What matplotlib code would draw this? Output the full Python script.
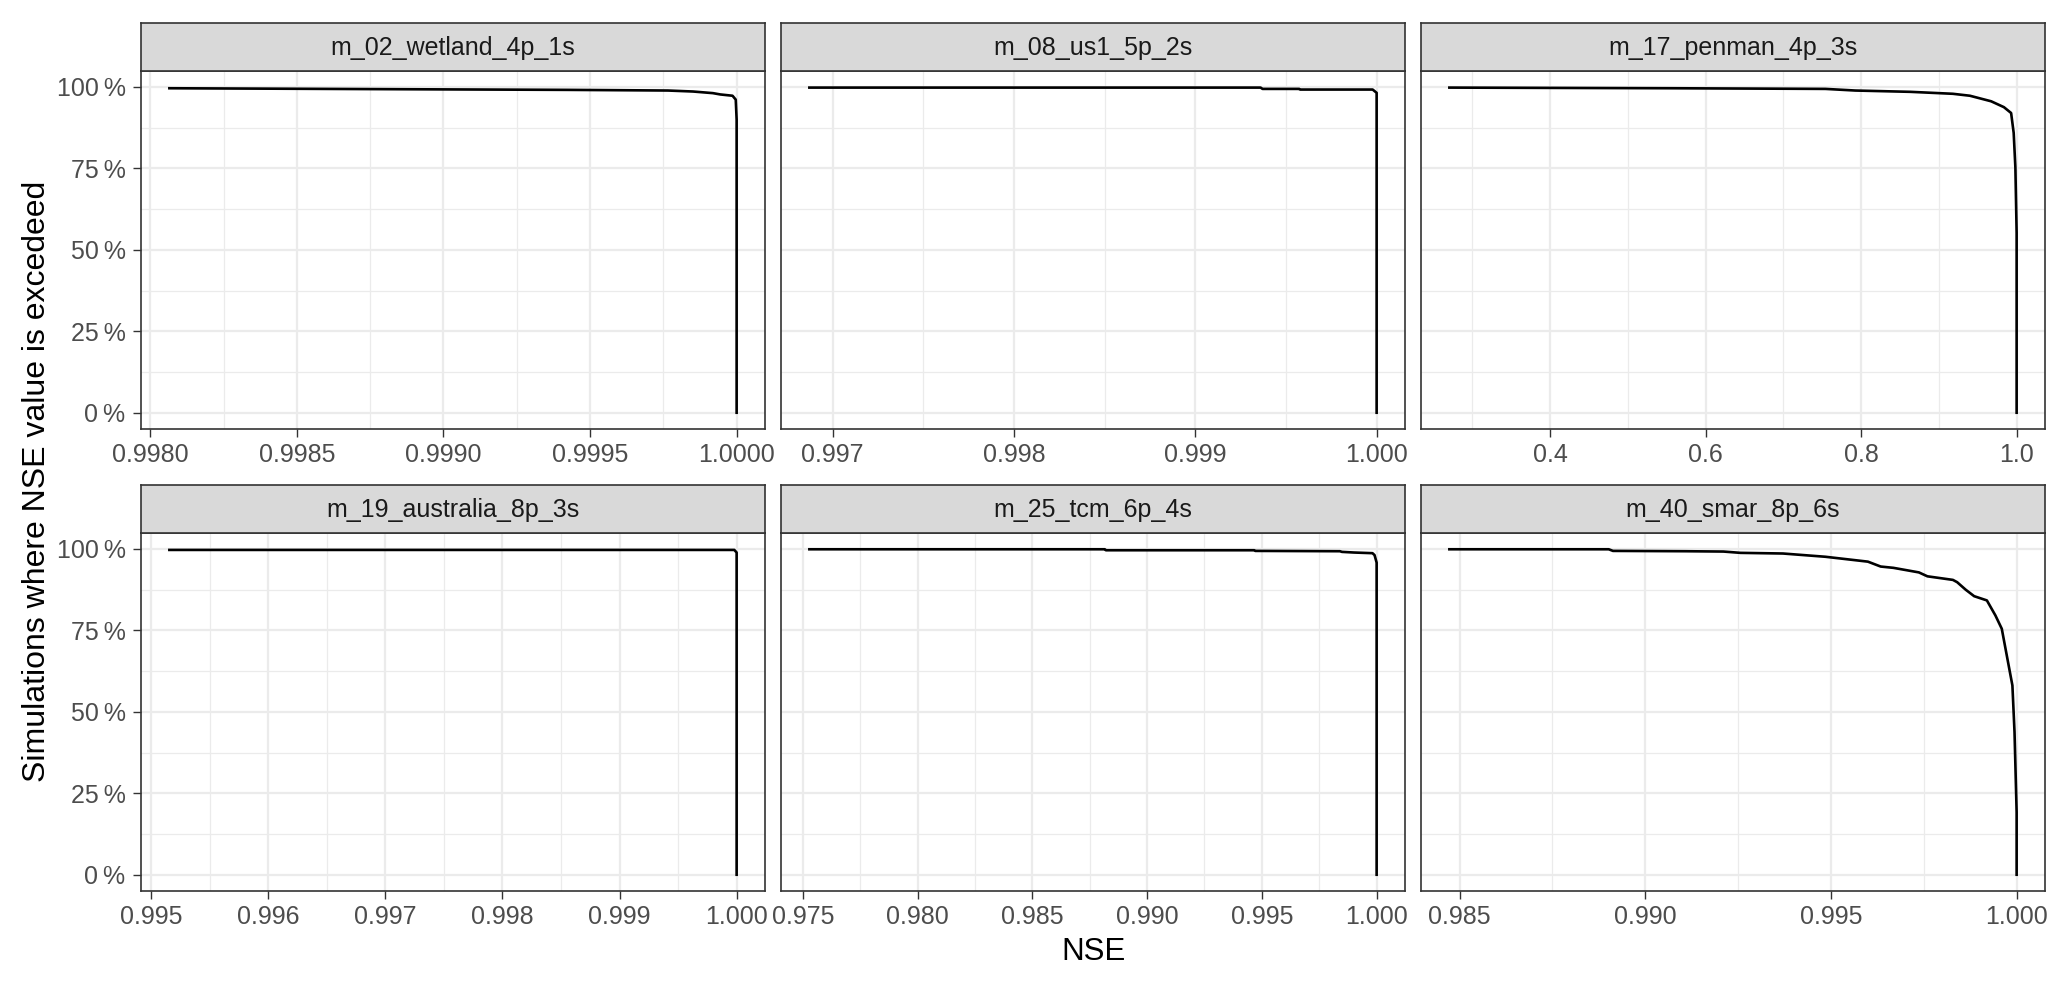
import matplotlib
matplotlib.use("Agg")
import matplotlib.pyplot as plt
from matplotlib.ticker import FixedLocator, FixedFormatter

# NSE exceedance curves (NSE value, % of simulations exceeding it)
titles = ["m_02_wetland_4p_1s", "m_08_us1_5p_2s", "m_17_penman_4p_3s",
          "m_19_australia_8p_3s", "m_25_tcm_6p_4s", "m_40_smar_8p_6s"]

nse_02 = [0.998065, 0.998857, 0.999426, 0.999766, 0.999851, 0.999919, 0.999944, 0.999986, 0.999997, 1.0, 1.0]
pct_02 = [99.6, 99.3, 99.1, 98.9, 98.6, 98.1, 97.7, 97.3, 96.1, 90.0, 0.0]

nse_08 = [0.996872, 0.999360, 0.999371, 0.999573, 0.999578, 0.999978, 1.0, 1.0]
pct_08 = [99.8, 99.8, 99.4, 99.4, 99.2, 99.2, 98.2, 0.0]

nse_17 = [0.2705, 0.5574, 0.7541, 0.7924, 0.8634, 0.9180, 0.9399, 0.9672, 0.9836, 0.9929, 0.9962, 0.9984, 1.0, 1.0]
pct_17 = [99.8, 99.6, 99.4, 98.9, 98.5, 97.9, 97.3, 95.6, 93.8, 92.0, 85.9, 75.2, 55.2, 0.0]

nse_19 = [0.995157, 0.99998, 1.0, 1.0]
pct_19 = [99.7, 99.7, 98.9, 0.0]

nse_25 = [0.975284, 0.98816, 0.98820, 0.99467, 0.99471, 0.99840, 0.99849, 0.99902, 0.99982, 0.99991, 1.0, 1.0]
pct_25 = [99.9, 99.9, 99.6, 99.6, 99.4, 99.3, 99.1, 98.9, 98.7, 98.1, 95.8, 0.0]

nse_40 = [0.984725, 0.989016, 0.989130, 0.991076, 0.992105, 0.992563, 0.993707, 0.994851, 0.995995,
          0.996339, 0.996682, 0.997368, 0.997597, 0.998284, 0.998398, 0.998627, 0.998856, 0.999199,
          0.999428, 0.999600, 0.999886, 0.999943, 1.0, 1.0]
pct_40 = [99.9, 99.9, 99.4, 99.3, 99.2, 98.8, 98.6, 97.6, 96.1, 94.6, 94.2, 92.8, 91.6, 90.5, 89.8,
          87.5, 85.5, 84.2, 79.6, 75.5, 58.1, 43.8, 19.2, 0.0]

xticks = [
    [0.998, 0.9985, 0.999, 0.9995, 1.0],
    [0.997, 0.998, 0.999, 1.0],
    [0.4, 0.6, 0.8, 1.0],
    [0.995, 0.996, 0.997, 0.998, 0.999, 1.0],
    [0.975, 0.980, 0.985, 0.990, 0.995, 1.0],
    [0.985, 0.990, 0.995, 1.0],
]
xfmt = ["{:.4f}", "{:.3f}", "{:.1f}", "{:.3f}", "{:.3f}", "{:.3f}"]
yticks = [0, 25, 50, 75, 100]
ylabels = ["0\u2009%", "25\u2009%", "50\u2009%", "75\u2009%", "100\u2009%"]

series = [(nse_02, pct_02), (nse_08, pct_08), (nse_17, pct_17),
          (nse_19, pct_19), (nse_25, pct_25), (nse_40, pct_40)]

plt.rcParams["font.family"] = ["Liberation Sans", "DejaVu Sans"]

W, H = 2067, 985
fig = plt.figure(figsize=(W / 100, H / 100), dpi=100)

col_left = [141, 781, 1421]
pw = 624
row_top = [71, 533]   # top of plotting area (below strip)
ph = 358
sh = 48               # strip height

ymax = max(max(p) for _, p in series)
ymin = 0.0
ypad = 0.05 * (ymax - ymin)

for i, (x, y) in enumerate(series):
    r, c = divmod(i, 3)
    left = col_left[c] / W
    bottom = 1 - (row_top[r] + ph) / H
    ax = fig.add_axes([left, bottom, pw / W, ph / H])
    ax.plot(x, y, color="black", lw=1.9, solid_joinstyle="round", zorder=3)

    xmin, xmax = min(x), max(x)
    xp = 0.05 * (xmax - xmin)
    ax.set_xlim(xmin - xp, xmax + xp)
    ax.set_ylim(ymin - ypad, ymax + ypad)

    xt = xticks[i]
    step = xt[1] - xt[0]
    minors = [v - step / 2 for v in xt] + [xt[-1] + step / 2]
    ax.xaxis.set_major_locator(FixedLocator(xt))
    ax.xaxis.set_major_formatter(FixedFormatter([xfmt[i].format(v) for v in xt]))
    ax.xaxis.set_minor_locator(FixedLocator(minors))
    ax.yaxis.set_major_locator(FixedLocator(yticks))
    ax.yaxis.set_minor_locator(FixedLocator([12.5, 37.5, 62.5, 87.5]))
    if c == 0:
        ax.set_yticklabels(ylabels)
    else:
        ax.tick_params(axis="y", labelleft=False, left=False)

    ax.grid(which="major", color="#EBEBEB", lw=1.6, zorder=0)
    ax.grid(which="minor", color="#EBEBEB", lw=0.9, zorder=0)
    ax.set_axisbelow(True)
    ax.tick_params(which="major", length=5.6, width=1.0, color="#333333",
                   labelsize=18, labelcolor="#4D4D4D")
    ax.tick_params(axis="x", pad=4.5)
    ax.tick_params(axis="y", pad=5.5)
    ax.tick_params(which="minor", length=0)
    for sp in ax.spines.values():
        sp.set_color("#333333")
        sp.set_linewidth(1.2)

    # facet strip
    sax = fig.add_axes([left, 1 - row_top[r] / H, pw / W, sh / H])
    sax.set_facecolor("#D9D9D9")
    sax.set_xticks([])
    sax.set_yticks([])
    for sp in sax.spines.values():
        sp.set_color("#333333")
        sp.set_linewidth(1.2)
    sax.text(0.5, 0.48, titles[i], ha="center", va="center", fontsize=18,
             color="#1A1A1A", transform=sax.transAxes)

fig.text(1093 / W, 1 - 952 / H, "NSE", ha="center", va="center", fontsize=22.5)
fig.text(37 / W, 1 - 481 / H, "Simulations where NSE value is excedeed",
         ha="center", va="center", rotation=90, fontsize=23)

fig.savefig("out.png", dpi=100)
